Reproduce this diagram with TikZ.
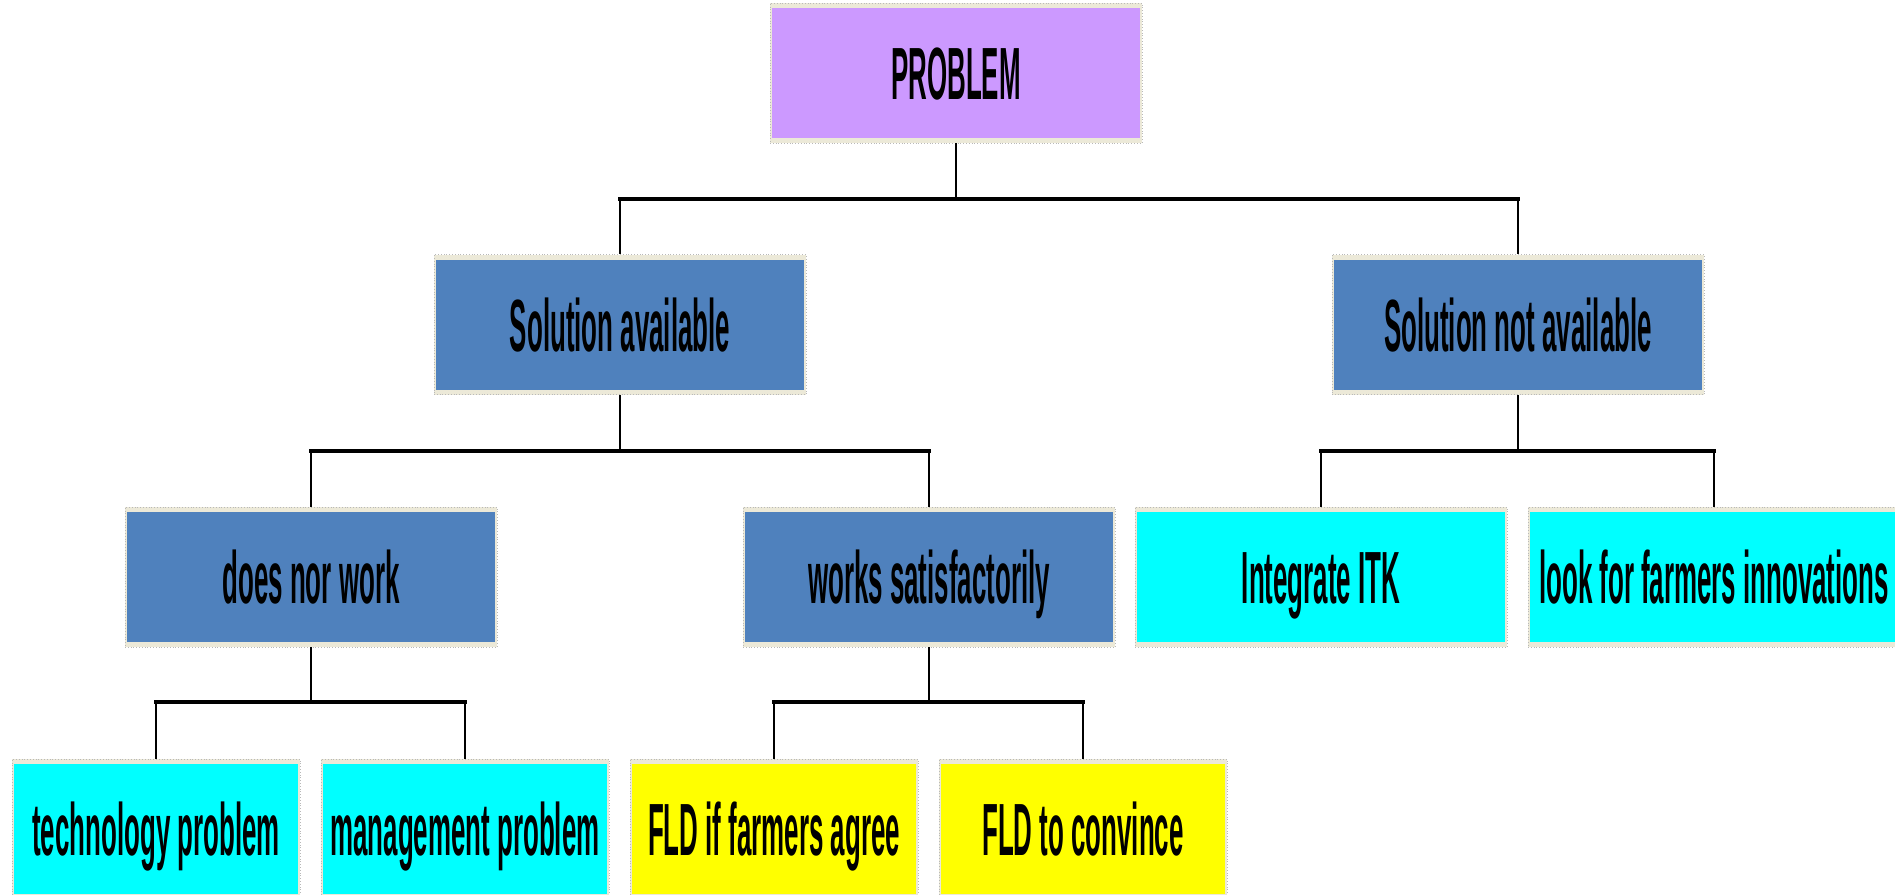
\documentclass[tikz,border=0pt]{standalone}
\usepackage{fontspec}
\newfontfamily\boxfont{Liberation Sans}[FakeStretch=0.35]
\definecolor{framegray}{HTML}{ECE9D8}
\definecolor{purp}{HTML}{CC99FF}
\definecolor{blu}{HTML}{4F81BD}
\definecolor{cyn}{HTML}{00FFFF}
\definecolor{yel}{HTML}{FFFF00}
\begin{document}
\begin{tikzpicture}[x=0.5pt,y=-0.5pt,
  box/.style={draw=gray!55, densely dotted, line width=0.4pt, fill=framegray,
    minimum width=186pt, minimum height=70pt, inner sep=0pt,
    text height=26.5pt, text depth=0pt,
    font=\fontsize{37}{40}\boxfont\bfseries,
    path picture={\fill[#1] ([xshift=1pt,yshift=-2.5pt]path picture bounding box.north west) rectangle ([xshift=-1pt,yshift=2.5pt]path picture bounding box.south east);}},
  smallbox/.style={box=#1, minimum width=144pt},
  vline/.style={line width=1.3pt, black},
  bar/.style={line width=2pt, black, line cap=rect}]
\useasboundingbox (0,0) rectangle (1895,894);
\clip (0,0) rectangle (1895,894);

% level 1
\node[box=purp] (p) at (956,73) {PROBLEM};
% level 2
\node[box=blu] (sa) at (620,324.5) {Solution available};
\node[box=blu] (sna) at (1518,324.5) {Solution not available};
% level 3
\node[box=blu] (dnw) at (311,577) {does nor work};
\node[box=blu] (ws) at (929,577) {works satisfactorily};
\node[box=cyn] (itk) at (1321,577) {Integrate ITK};
\node[box=cyn] (lfi) at (1714,577) {look for farmers innovations};
% level 4
\node[smallbox=cyn] (tp) at (156,829) {technology problem};
\node[smallbox=cyn] (mp) at (465,829) {management problem};
\node[smallbox=yel] (fa) at (774,829) {FLD if farmers agree};
\node[smallbox=yel] (fc) at (1083,829) {FLD to convince};

% junction levels
\coordinate (j1) at (956,199);
\coordinate (j2) at (0,451);
\coordinate (j3) at (0,702);

% connectors level 1
\draw[vline] (p.south) -- (j1);
\draw[bar] (j1 -| sa.north) -- (j1 -| sna.north);
\draw[vline] (j1 -| sa.north) -- (sa.north);
\draw[vline] (j1 -| sna.north) -- (sna.north);

% connectors level 2
\draw[vline] (sa.south) -- (sa.south |- j2);
\draw[bar] (j2 -| dnw.north) -- (j2 -| ws.north);
\draw[vline] (j2 -| dnw.north) -- (dnw.north);
\draw[vline] (j2 -| ws.north) -- (ws.north);

\draw[vline] (sna.south) -- (sna.south |- j2);
\draw[bar] (j2 -| itk.north) -- (j2 -| lfi.north);
\draw[vline] (j2 -| itk.north) -- (itk.north);
\draw[vline] (j2 -| lfi.north) -- (lfi.north);

% connectors level 3
\draw[vline] (dnw.south) -- (dnw.south |- j3);
\draw[bar] (j3 -| tp.north) -- (j3 -| mp.north);
\draw[vline] (j3 -| tp.north) -- (tp.north);
\draw[vline] (j3 -| mp.north) -- (mp.north);

\draw[vline] (ws.south) -- (ws.south |- j3);
\draw[bar] (j3 -| fa.north) -- (j3 -| fc.north);
\draw[vline] (j3 -| fa.north) -- (fa.north);
\draw[vline] (j3 -| fc.north) -- (fc.north);
\end{tikzpicture}
\end{document}
